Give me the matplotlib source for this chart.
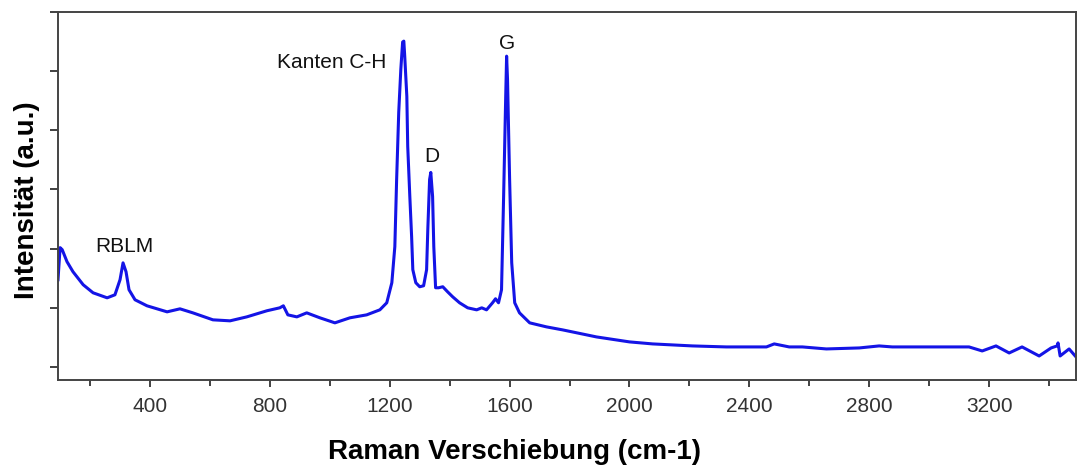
import numpy as np
import matplotlib
matplotlib.use("Agg")
import matplotlib.pyplot as plt
from matplotlib.ticker import MultipleLocator

plt.rcParams['font.family'] = ['Liberation Sans', 'DejaVu Sans']

# Raman-Spektrum
shift = [93, 100, 107, 123, 143, 177, 210, 257, 283, 300, 310, 320, 330, 350,
         390, 457, 500, 543, 610, 667, 723, 790, 833, 845, 860, 890, 923, 967,
         1017, 1067, 1123, 1167, 1190, 1207, 1217, 1223, 1230, 1237, 1243, 1247,
         1250, 1257, 1260, 1267, 1273, 1277, 1287, 1300, 1313, 1323, 1327, 1333,
         1337, 1343, 1347, 1353, 1363, 1377, 1393, 1410, 1433, 1460, 1490, 1507,
         1523, 1543, 1553, 1563, 1573, 1580, 1587, 1590, 1593, 1600, 1607, 1617,
         1633, 1667, 1723, 1777, 1890, 2000, 2077, 2210, 2323, 2390, 2457, 2483,
         2533, 2577, 2657, 2767, 2833, 2877, 2990, 3100, 3133, 3177, 3223, 3267,
         3310, 3367, 3407, 3427, 3430, 3437, 3467, 3493]
intensity = [1475, 2017, 1983, 1780, 1610, 1390, 1254, 1169, 1220, 1475, 1760,
             1610, 1305, 1136, 1034, 932, 983, 915, 797, 780, 847, 950, 1000, 1034,
             881, 847, 915, 831, 746, 831, 881, 966, 1085, 1424, 2034, 3169, 4305,
             5034, 5492, 5508, 5254, 4576, 3729, 2881, 2203, 1644, 1424, 1356, 1373,
             1644, 2322, 3169, 3288, 2881, 2034, 1339, 1339, 1356, 1271, 1186, 1085,
             1000, 966, 1000, 966, 1085, 1153, 1085, 1305, 2881, 4576, 5254, 4864,
             3169, 1763, 1085, 915, 746, 678, 627, 508, 424, 390, 356, 339, 339, 339,
             390, 339, 339, 305, 322, 356, 339, 339, 339, 339, 271, 356, 237, 339,
             186, 322, 356, 407, 186, 305, 153]

labels = ["RBLM", "Kanten C-H", "D", "G"]
label_x = [313, 1007, 1340, 1593]
label_y = [2034, 5153, 3559, 5475]

fig = plt.figure(figsize=(10.8, 4.66), dpi=100)
ax = fig.add_axes([58 / 1080, 1 - 380 / 466, 1018 / 1080, 368 / 466])

ax.plot(shift, intensity, color='#1414e6', lw=2.2, solid_joinstyle='round')

for t, x, y in zip(labels, label_x, label_y):
    ax.text(x, y, t, ha='center', va='center', fontsize=15, color='#111111')

ax.set_xlim(93, 3490)
ax.set_ylim(-220, 6000)
ax.xaxis.set_major_locator(MultipleLocator(400))
ax.xaxis.set_minor_locator(MultipleLocator(200))
ax.yaxis.set_major_locator(MultipleLocator(1000))
ax.set_yticklabels([])
ax.tick_params(axis='x', which='major', length=5, width=1.3, labelsize=15,
               pad=7, colors='#333333', labelcolor='#333333')
ax.tick_params(axis='x', which='minor', length=4, width=1.3, colors='#333333')
ax.tick_params(axis='y', length=6, width=1.3, colors='#333333')
for s in ax.spines.values():
    s.set_color('#444444')
    s.set_linewidth(1.4)

fig.text(514 / 1080, 1 - 452 / 466, "Raman Verschiebung (cm-1)", ha='center',
         va='center', fontsize=20, fontweight='bold')
fig.text(27 / 1080, 1 - 200 / 466, "Intensität (a.u.)", ha='center', va='center',
         rotation=90, fontsize=20, fontweight='bold')

plt.savefig("out.png", dpi=100)
